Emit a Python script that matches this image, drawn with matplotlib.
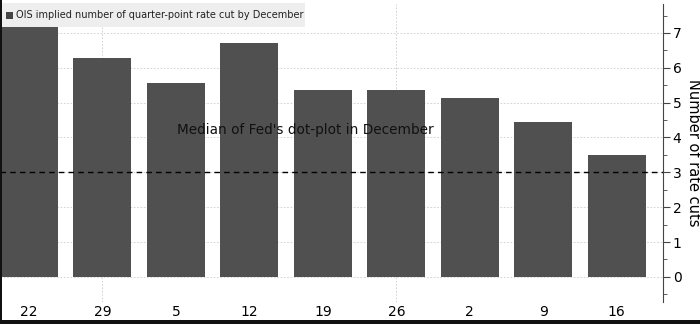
import matplotlib.pyplot as plt
from matplotlib.patches import Rectangle

# OIS implied cuts by week
days = ["22", "29", "5", "12", "19", "26", "2", "9", "16"]
cuts = [7.17, 6.28, 5.57, 6.71, 5.36, 5.36, 5.13, 4.45, 3.5]
months = ["Dec 2023", "Jan 2024", "Feb 2024"]
month_pos = [0.57, 3.02, 6.82]
fed_median = 3

fig = plt.figure(figsize=(7, 3.24), dpi=100)
ax = fig.add_axes([0, 22 / 324, 663 / 700, 298 / 324])

x = range(len(days))
ax.bar(x, cuts, width=0.79, color="#505050", zorder=3)
ax.axhline(fed_median, color="black", linestyle=(0, (4, 3)), linewidth=1, zorder=4)
ax.text(3.76, 4.22, "Median of Fed's dot-plot in December", ha="center", va="center",
        fontsize=9.8, color="#111111", zorder=5)

ax.set_xlim(-0.395, 8.63)
ax.set_ylim(-0.72, 7.83)

ax.yaxis.tick_right()
ax.yaxis.set_label_position("right")
ax.set_yticks(range(8))
ax.set_yticks([i + 0.5 for i in range(-1, 8)], minor=True)
ax.tick_params(axis="y", which="major", length=5, direction="out", labelsize=10, pad=2, color="#444444")
ax.tick_params(axis="y", which="minor", length=3, direction="out", color="#444444")
ax.set_ylabel("Number of rate cuts", rotation=270, labelpad=14, fontsize=10.5)

ax.set_xticks(list(x))
ax.set_xticklabels(days)
ax.tick_params(axis="x", length=0, pad=2, labelsize=10)

for s in ["top", "bottom", "left"]:
    ax.spines[s].set_visible(False)
ax.spines["right"].set_color("#444444")

ax.grid(axis="y", color="#cccccc", linestyle=(0, (2, 2)), linewidth=0.6, zorder=0)
for gx in [1, 5]:
    ax.axvline(gx, color="#cccccc", linestyle=(0, (2, 2)), linewidth=0.6, zorder=0)

# legend box
fig.patches.append(Rectangle((0, 1 - 27 / 324), 305 / 700, 24 / 324, transform=fig.transFigure,
                             facecolor="#eeeeee", edgecolor="none", zorder=6))
fig.patches.append(Rectangle((6 / 700, 1 - 19 / 324), 7 / 700, 7 / 324, transform=fig.transFigure,
                             facecolor="#444444", edgecolor="none", zorder=7))
fig.text(16 / 700, 1 - 15.5 / 324, "OIS implied number of quarter-point rate cut by December",
         fontsize=7, va="center", ha="left", color="#222222", zorder=8)

# month labels, mostly hidden by bottom band
for m, p in zip(months, month_pos):
    ax.text(p, -1.37, m, ha="center", va="top", fontsize=9, color="#333333", clip_on=False)
fig.patches.append(Rectangle((0, 0), 1, 4 / 324, transform=fig.transFigure,
                             facecolor="#111111", edgecolor="none", zorder=10))
fig.patches.append(Rectangle((0, 0), 1.5 / 700, 1, transform=fig.transFigure,
                             facecolor="#111111", edgecolor="none", zorder=10))

fig.savefig("out.png", dpi=100)
